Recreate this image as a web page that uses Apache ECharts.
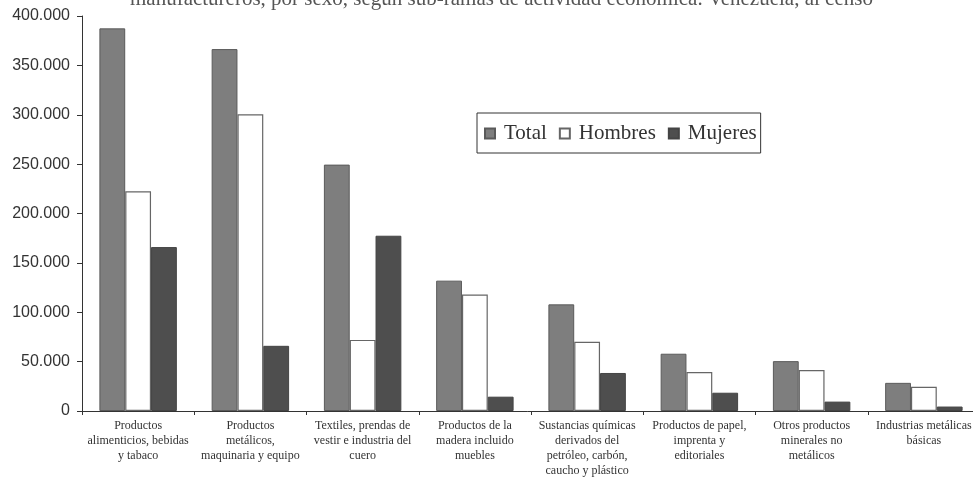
<!DOCTYPE html>
<html>
<head>
<meta charset="utf-8">
<script src="https://cdn.jsdelivr.net/npm/echarts@6/dist/echarts.min.js"></script>
<style>
html,body{margin:0;padding:0;background:#fff;}
#chart{width:973px;height:478px;}
</style>
</head>
<body>
<div id="chart"></div>
<script>
const categories = [
  "Productos\nalimenticios, bebidas\ny tabaco",
  "Productos\nmetálicos,\nmaquinaria y equipo",
  "Textiles, prendas de\nvestir e industria del\ncuero",
  "Productos de la\nmadera incluido\nmuebles",
  "Sustancias químicas\nderivados del\npetróleo, carbón,\ncaucho y plástico",
  "Productos de papel,\nimprenta y\neditoriales",
  "Otros productos\nminerales no\nmetálicos",
  "Industrias metálicas\nbásicas"
];
const totalValues   = [387500, 366500, 249500, 132000, 108000, 58000, 50500, 28500];
const hombresValues = [222500, 300500, 72000, 118000, 70000, 39500, 41500, 24500];
const mujeresValues = [166000, 66000, 177500, 14500, 38500, 18500, 9500, 4500];
const yTicks = { min: 0, max: 400000, interval: 50000 };
const titleText = "manufactureros, por sexo, según sub-ramas de actividad económica. Venezuela, al censo";

const chart = echarts.init(document.getElementById('chart'));
chart.setOption({
  animation: false,
  backgroundColor: '#ffffff',
  title: {
    text: titleText,
    left: 130,
    top: -11,
    padding: 0,
    textStyle: { fontFamily: 'Liberation Serif', fontSize: 21, fontWeight: 'normal', color: '#555' }
  },
  legend: {
    data: ['Total', 'Hombres', 'Mujeres'],
    left: 477,
    top: 113,
    orient: 'horizontal',
    icon: 'rect',
    itemWidth: 10,
    itemHeight: 10,
    itemGap: 12,
    borderColor: '#333',
    borderWidth: 1,
    padding: [10, 4, 9, 7],
    textStyle: { fontFamily: 'Liberation Serif', fontSize: 21, color: '#333', padding: [0, 0, 0, 4] }
  },
  grid: { left: 82, right: -7, top: 16, bottom: 67, containLabel: false, outerBoundsMode: 'none' },
  xAxis: {
    type: 'category',
    data: categories,
    axisLine: { lineStyle: { color: '#333', width: 1 } },
    axisTick: { show: true, length: 4, lineStyle: { color: '#333' } },
    axisLabel: {
      interval: 0,
      margin: 7,
      fontFamily: 'Liberation Serif',
      fontSize: 12,
      lineHeight: 15,
      color: '#333',
      align: 'center'
    }
  },
  yAxis: {
    type: 'value',
    min: yTicks.min,
    max: yTicks.max,
    interval: yTicks.interval,
    splitLine: { show: false },
    axisLine: { show: true, lineStyle: { color: '#333', width: 1 } },
    axisTick: { show: true, length: 5, lineStyle: { color: '#333' } },
    axisLabel: {
      margin: 12,
      fontFamily: 'Liberation Sans',
      fontSize: 16,
      color: '#333',
      formatter: function (v) { return v.toString().replace(/\B(?=(\d{3})+(?!\d))/g, '.'); }
    }
  },
  series: [
    {
      name: 'Total', type: 'bar', data: totalValues,
      barGap: '0%', barCategoryGap: '31%',
      itemStyle: { color: '#7e7e7e', borderColor: '#5a5a5a', borderWidth: 1 }
    },
    {
      name: 'Hombres', type: 'bar', data: hombresValues,
      itemStyle: { color: '#ffffff', borderColor: '#666', borderWidth: 1.2 }
    },
    {
      name: 'Mujeres', type: 'bar', data: mujeresValues,
      itemStyle: { color: '#4e4e4e', borderColor: '#444', borderWidth: 1 }
    }
  ]
});
</script>
</body>
</html>
